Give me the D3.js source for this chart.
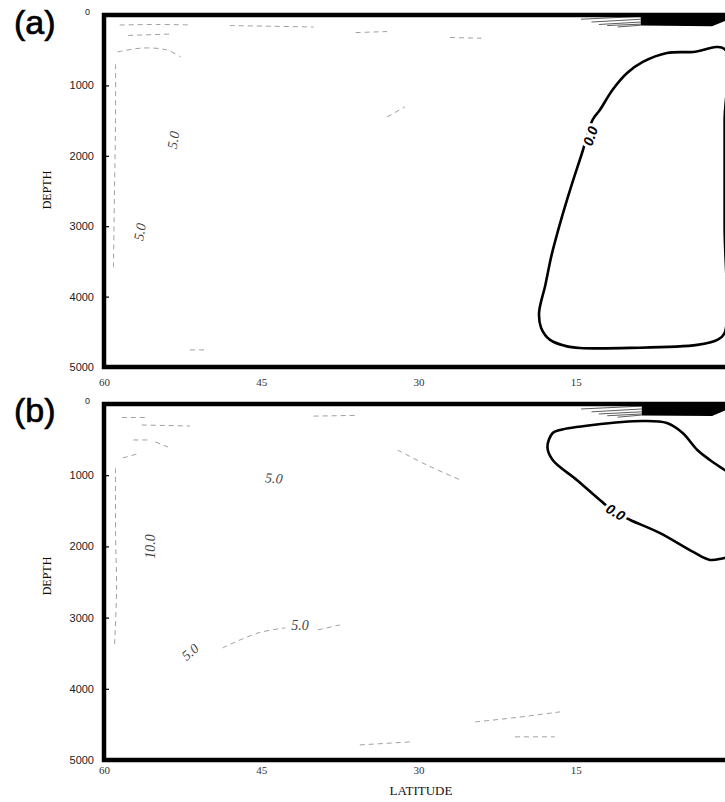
<!DOCTYPE html>
<html>
<head>
<meta charset="utf-8">
<script src="https://cdn.jsdelivr.net/npm/d3@7"></script>
<style>
  html, body { margin: 0; padding: 0; background: #fff; }
  svg { display: block; }
</style>
</head>
<body>
<svg id="chart" width="725" height="802"></svg>
<script>
// ---------- data ----------
const latTicks = [60, 45, 30, 15];
const depthTicks = [0, 1000, 2000, 3000, 4000, 5000];
const panelNames = ["(a)", "(b)"];

// zero contour (lat, depth) - panel a
const zeroA = [[0.8,483],[3.8,525],[6.3,540],[8.6,667],[10.1,824],[11.5,1065],[12.7,1349],[13.4,1491],
  [14.4,1960],[15.45,2442],[16.4,2911],[17.3,3408],[17.9,3834],[18.5,4232],[18.3,4445],[17.45,4615],
  [16.0,4700],[14.6,4729],[9.8,4729],[3.4,4686],[1.5,4615],[0.8,4516],[0.8,3000],[0.8,1500]];
// zero contour - panel b
const zeroB = [[17.2,407],[16.5,365],[13.4,295],[8.6,239],[6.3,267],[4.8,407],[3.4,646],[2.2,786],
  [0.8,927],[-1.5,1150],[-2.5,1650],[-1.2,2120],[0.8,2162],[2.2,2190],[3.8,2078],[7.0,1811],
  [9.8,1629],[11.3,1516],[12.7,1348],[14.9,1067],[17.2,786],[17.7,604]];

// surface wedge of dense contours (lat, depth)
const wedgeA = [[8.8,0],[0.0,0],[0.0,40],[2.0,160],[8.8,150]];
const wedgeB = [[8.7,0],[0.0,0],[0.0,40],[2.0,170],[8.7,160]];
// hatch lines leading into the wedge: [startLat, startDepth, endLat, endDepth]
const hatchA = [[14.5,60,8.8,20],[13.5,100,8.8,60],[12.8,135,8.8,100],[12.0,150,8.8,130],[11.0,170,8.8,145]];
const hatchB = [[14.5,70,8.7,30],[13.5,110,8.7,70],[12.8,140,8.7,110],[12.0,165,8.7,140],[11.0,185,8.7,155]];

// faint dashed contours - panel a
const faintA = [
  [[58.7,525],[56.3,469],[54.0,497],[52.7,596]],
  [[58.5,142],[55,135],[52,140]],
  [[57.7,290],[53.5,270]],
  [[48,150],[44,160],[40,170]],
  [[36,250],[33,235]],
  [[27,320],[24,330]],
  [[58.9,700],[58.9,1500],[59.0,2500],[59.1,3600]],
  [[33.0,1448],[31.3,1306]],
  [[51.8,4757],[50.4,4757]]
];
// faint dashed contours - panel b
const faintB = [
  [[56.4,295],[51.8,309]],
  [[57.2,505],[55.6,505]],
  [[55.1,533],[53.9,604]],
  [[58.2,758],[56.8,700]],
  [[58.3,190],[56.0,190]],
  [[40,170],[36,160]],
  [[58.9,900],[58.9,1800],[58.8,2600],[59.0,3400]],
  [[32.0,646],[29.2,857],[26.0,1067]],
  [[48.7,3426],[45.3,3215],[42.7,3145]],
  [[39.6,3173],[37.5,3103]],
  [[35.6,4788],[30.8,4746]],
  [[24.6,4465],[20.5,4400],[16.5,4324]],
  [[20.8,4675],[17.0,4675]]
];

// contour labels: [text, lat, depth, rotation]
const zeroLabels = [["0.0", 13.6, 1720, -72], ["0.0", 11.2, 1520, 30]];
const labelsA = [["5.0", 53.4, 1775, -80], ["5.0", 56.6, 3080, -80]];
const labelsB = [["5.0", 43.8, 1040, 5], ["10.0", 55.6, 2000, -90], ["5.0", 51.8, 3480, -40], ["5.0", 41.3, 3110, 0]];

// ---------- drawing ----------
const svg = d3.select("#chart");
const x = d3.scaleLinear().domain([60, 0]).range([104, 733]);
const panels = [
  { y: d3.scaleLinear().domain([0, 5000]).range([15, 367]), zero: zeroA, wedge: wedgeA, hatch: hatchA,
    faint: faintA, labels: labelsA, zl: zeroLabels[0], name: panelNames[0], nameY: 34, depthY: 190, xLabY: 387 },
  { y: d3.scaleLinear().domain([0, 5000]).range([404, 760]), zero: zeroB, wedge: wedgeB, hatch: hatchB,
    faint: faintB, labels: labelsB, zl: zeroLabels[1], name: panelNames[1], nameY: 422, depthY: 576, xLabY: 775 }
];

panels.forEach((p, i) => {
  const y = p.y;
  const g = svg.append("g");
  const clipId = "clip" + i;
  g.append("clipPath").attr("id", clipId).append("rect")
    .attr("x", x(60)).attr("y", y(0)).attr("width", x(0) - x(60)).attr("height", y(5000) - y(0));
  const inner = g.append("g").attr("clip-path", `url(#${clipId})`);

  const line = d3.line().x(d => x(d[0])).y(d => y(d[1])).curve(d3.curveCatmullRom.alpha(0.5));

  // faint contours
  inner.selectAll(".faint").data(p.faint).join("path")
    .attr("d", line).attr("fill", "none").attr("stroke", "#888")
    .attr("stroke-width", 0.8).attr("stroke-dasharray", "5,4");

  // hatch lines near surface
  inner.selectAll(".hatch").data(p.hatch).join("line")
    .attr("x1", d => x(d[0])).attr("y1", d => y(d[1]))
    .attr("x2", d => x(d[2])).attr("y2", d => y(d[3]))
    .attr("stroke", "#333").attr("stroke-width", 0.8);

  // dense wedge
  inner.append("path")
    .attr("d", d3.line().x(d => x(d[0])).y(d => y(d[1]))(p.wedge) + "Z")
    .attr("fill", "#000");

  // zero contour
  inner.append("path")
    .attr("d", d3.line().x(d => x(d[0])).y(d => y(d[1])).curve(d3.curveCatmullRomClosed.alpha(0.5))(p.zero))
    .attr("fill", "none").attr("stroke", "#000").attr("stroke-width", 2.6);

  // zero label
  inner.append("text")
    .attr("transform", `translate(${x(p.zl[1])},${y(p.zl[2])}) rotate(${p.zl[3]})`)
    .attr("text-anchor", "middle").attr("dy", "0.35em")
    .attr("font-family", "Liberation Sans, Arial, sans-serif").attr("font-weight", "bold")
    .attr("font-style", "italic").attr("font-size", 14)
    .attr("stroke", "#fff").attr("stroke-width", 6).attr("paint-order", "stroke")
    .attr("fill", "#000").text(p.zl[0]);

  // faint labels
  inner.selectAll(".flab").data(p.labels).join("text")
    .attr("transform", d => `translate(${x(d[1])},${y(d[2])}) rotate(${d[3]})`)
    .attr("text-anchor", "middle").attr("dy", "0.35em")
    .attr("font-family", "Liberation Serif, Times New Roman, serif").attr("font-style", "italic")
    .attr("font-size", 14).attr("fill", "#444").text(d => d[0]);

  // frame
  g.append("rect")
    .attr("x", x(60)).attr("y", y(0)).attr("width", x(0) - x(60)).attr("height", y(5000) - y(0))
    .attr("fill", "none").attr("stroke", "#000").attr("stroke-width", 4.5);

  // y axis
  const ya = g.append("g").attr("transform", `translate(${x(60)},0)`)
    .call(d3.axisLeft(y).tickValues(depthTicks).tickSize(-5).tickPadding(10).tickFormat(d3.format("d")));
  ya.select(".domain").remove();
  ya.selectAll(".tick line").attr("stroke", "#000").attr("stroke-width", 1.2);
  ya.selectAll(".tick text")
    .attr("font-family", "Liberation Sans, Arial, sans-serif").attr("font-size", 11).attr("fill", "#222")
    .filter(d => d === 0).attr("font-size", 9).attr("dy", "-0.1em").attr("x", -14);

  // x axis
  const xa = g.append("g").attr("transform", `translate(0,${y(5000)})`)
    .call(d3.axisBottom(x).tickValues(latTicks).tickSize(0).tickPadding(p.xLabY - y(5000) - 9).tickFormat(d3.format("d")));
  xa.select(".domain").remove();
  xa.selectAll(".tick text")
    .attr("font-family", "Liberation Serif, Times New Roman, serif").attr("font-size", 11).attr("fill", "#333");

  // axis titles
  svg.append("text")
    .attr("transform", `translate(47,${p.depthY}) rotate(-90)`)
    .attr("text-anchor", "middle").attr("dy", "0.35em")
    .attr("font-family", "Liberation Serif, Times New Roman, serif").attr("font-size", 12).attr("fill", "#111")
    .text("DEPTH");

  svg.append("text")
    .attr("x", 14).attr("y", p.nameY)
    .attr("font-family", "Liberation Sans, Arial, sans-serif").attr("font-size", 34)
    .attr("stroke", "#000").attr("stroke-width", 0.7).attr("fill", "#000")
    .text(p.name);
});

svg.append("text")
  .attr("x", 421).attr("y", 795).attr("text-anchor", "middle")
  .attr("font-family", "Liberation Serif, Times New Roman, serif").attr("font-size", 13).attr("fill", "#111")
  .text("LATITUDE");
</script>
</body>
</html>
